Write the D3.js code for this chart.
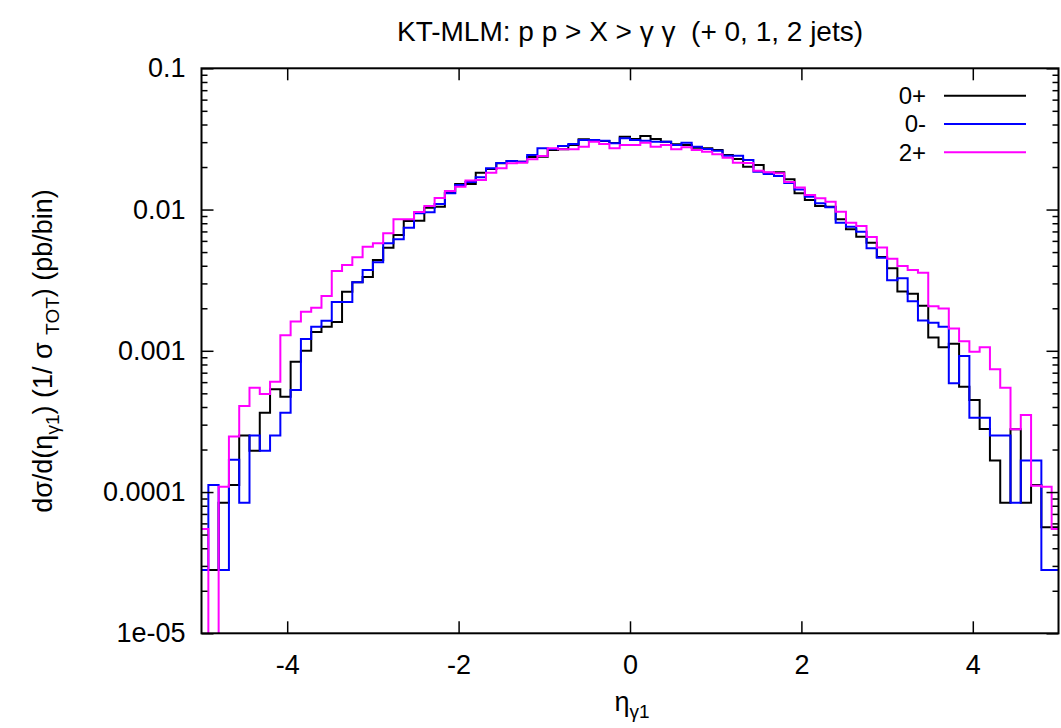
<!DOCTYPE html>
<html><head><meta charset="utf-8">
<script src="https://cdn.jsdelivr.net/npm/d3@7/dist/d3.min.js"></script>
<style>
body{margin:0;background:#fff;}
text{font-family:"Liberation Sans",Arial,Helvetica,sans-serif;fill:#000;}
</style>
</head><body>
<svg id="chart" width="1061" height="728"></svg>
<script>
// ---- data ----
// histogram bins of width 0.12 in eta, edges from -5.04 to 5.04
const binEdges = d3.range(85).map(i => +(-5.04 + 0.12 * i).toFixed(2));
const seriesNames = ["0+", "0-", "2+"];
const values0p = [
 2.81e-5,2.81e-5,8.41e-5,1.12e-4,2.51e-4,1.96e-4,3.65e-4,5.34e-4,4.73e-4,8.37e-4,
 1.00e-3,1.36e-3,1.48e-3,1.60e-3,2.62e-3,3.06e-3,3.33e-3,4.39e-3,5.37e-3,6.60e-3,
 8.30e-3,8.34e-3,1.031e-2,1.047e-2,1.310e-2,1.517e-2,1.517e-2,1.823e-2,1.937e-2,2.126e-2,
 2.207e-2,2.182e-2,2.356e-2,2.367e-2,2.640e-2,2.670e-2,2.864e-2,3.144e-2,3.073e-2,3.058e-2,
 2.959e-2,3.280e-2,3.159e-2,3.318e-2,3.159e-2,3.023e-2,2.897e-2,2.864e-2,2.741e-2,2.714e-2,
 2.640e-2,2.433e-2,2.280e-2,2.011e-2,2.068e-2,1.823e-2,1.835e-2,1.637e-2,1.303e-2,1.168e-2,
 1.059e-2,1.047e-2,8.53e-3,7.25e-3,6.42e-3,5.83e-3,4.61e-3,3.84e-3,2.63e-3,2.53e-3,
 2.08e-3,1.24e-3,1.06e-3,1.12e-3,5.57e-4,4.49e-4,2.80e-4,1.67e-4,8.41e-5,2.78e-4,
 8.41e-5,1.12e-4,5.63e-5,5.63e-5
];
const values0m = [
 2.81e-5,1.12e-4,2.81e-5,1.69e-4,8.41e-5,2.51e-4,1.96e-4,2.51e-4,3.65e-4,5.28e-4,
 1.21e-3,1.48e-3,1.63e-3,2.22e-3,2.22e-3,3.06e-3,3.73e-3,4.23e-3,5.77e-3,6.16e-3,
 7.44e-3,9.41e-3,9.56e-3,1.095e-2,1.303e-2,1.492e-2,1.567e-2,1.692e-2,1.959e-2,2.136e-2,
 2.207e-2,2.182e-2,2.433e-2,2.714e-2,2.683e-2,2.818e-2,2.911e-2,3.108e-2,3.108e-2,3.073e-2,
 2.944e-2,3.195e-2,3.108e-2,3.073e-2,3.023e-2,3.023e-2,2.864e-2,2.973e-2,2.786e-2,2.683e-2,
 2.610e-2,2.405e-2,2.405e-2,2.243e-2,1.853e-2,1.785e-2,1.728e-2,1.542e-2,1.387e-2,1.233e-2,
 1.107e-2,1.037e-2,8.07e-3,7.56e-3,6.97e-3,5.32e-3,4.55e-3,3.16e-3,3.26e-3,2.24e-3,
 1.64e-3,1.58e-3,1.48e-3,5.89e-4,9.19e-4,3.36e-4,3.36e-4,2.51e-4,2.51e-4,8.41e-5,
 1.67e-4,1.67e-4,2.81e-5,2.81e-5
];
const values2p = [
 5.47e-5,0,1.09e-4,2.47e-4,4.07e-4,5.48e-4,4.95e-4,6.04e-4,1.29e-3,1.61e-3,
 1.89e-3,2.02e-3,2.44e-3,3.67e-3,4.05e-3,4.59e-3,5.46e-3,5.77e-3,6.79e-3,8.53e-3,
 8.53e-3,9.61e-3,1.059e-2,1.207e-2,1.353e-2,1.451e-2,1.606e-2,1.619e-2,1.823e-2,1.959e-2,
 2.126e-2,2.147e-2,2.268e-2,2.394e-2,2.714e-2,2.670e-2,2.670e-2,2.786e-2,3.023e-2,2.911e-2,
 2.714e-2,2.864e-2,2.864e-2,2.973e-2,2.786e-2,2.864e-2,2.670e-2,2.759e-2,2.640e-2,2.568e-2,
 2.461e-2,2.328e-2,2.147e-2,2.136e-2,1.884e-2,1.835e-2,1.805e-2,1.567e-2,1.432e-2,1.268e-2,
 1.201e-2,1.137e-2,9.66e-3,8.07e-3,7.65e-3,6.39e-3,5.39e-3,4.48e-3,3.99e-3,3.73e-3,
 3.57e-3,2.07e-3,1.99e-3,1.44e-3,1.17e-3,9.86e-4,1.06e-3,7.39e-4,5.48e-4,2.78e-4,
 3.51e-4,1.11e-4,1.09e-4,5.47e-5
];
const xTickValues = [-4, -2, 0, 2, 4];
const xTickLabels = ["-4", "-2", "0", "2", "4"];
const yTickValues = [0.1, 0.01, 0.001, 0.0001, 0.00001];
const yTickLabels = ["0.1", "0.01", "0.001", "0.0001", "1e-05"];

// ---- layout ----
const L = 201.5, R = 1058.5, T = 68.3, B = 633.3;
const svg = d3.select("#chart");
const x = d3.scaleLinear().domain([-5, 5]).range([L, R]);
const y = d3.scaleLog().domain([1e-5, 0.1]).range([B, T]);
const colors = ["#000000", "#0000ff", "#ff00ff"];
const allSeries = [values0p, values0m, values2p];

svg.append("defs").append("clipPath").attr("id", "clip")
  .append("rect").attr("x", L).attr("y", T).attr("width", R - L).attr("height", B - T);

// curves
const line = d3.line()
  .x(d => x(d.e))
  .y(d => d.v > 0 ? y(d.v) : B + 40)
  .curve(d3.curveStepAfter);

const g = svg.append("g").attr("clip-path", "url(#clip)");
allSeries.forEach((vals, s) => {
  const pts = binEdges.map((e, i) => ({e: e, v: vals[Math.min(i, vals.length - 1)]}));
  g.append("path").attr("d", line(pts))
    .attr("fill", "none").attr("stroke", colors[s]).attr("stroke-width", 2)
    .attr("stroke-linejoin", "miter");
});

// axes
const fontSize = 27;
const minorY = [];
[1e-5, 1e-4, 1e-3, 1e-2].forEach(d => { for (let m = 2; m <= 9; m++) minorY.push(d * m); });

function styleAxis(sel) {
  sel.select(".domain").remove();
  sel.selectAll(".tick line").attr("stroke", "#000").attr("stroke-width", 1.5);
  sel.selectAll("text").style("font-size", fontSize + "px").attr("fill", "#000");
}
svg.append("g").attr("transform", `translate(0,${B})`)
  .call(d3.axisBottom(x).tickValues(xTickValues).tickSize(-12).tickPadding(22)
    .tickFormat((d, i) => xTickLabels[i]))
  .call(styleAxis);
svg.append("g").attr("transform", `translate(0,${T})`)
  .call(d3.axisTop(x).tickValues(xTickValues).tickSize(-12).tickFormat(""))
  .call(styleAxis);
svg.append("g").attr("transform", `translate(${L},0)`)
  .call(d3.axisLeft(y).tickValues(yTickValues).tickSize(-12).tickPadding(16)
    .tickFormat((d, i) => yTickLabels[i]))
  .call(styleAxis);
svg.append("g").attr("transform", `translate(${L},0)`)
  .call(d3.axisLeft(y).tickValues(minorY).tickSize(-6).tickFormat(""))
  .call(styleAxis);
svg.append("g").attr("transform", `translate(${R},0)`)
  .call(d3.axisRight(y).tickValues(yTickValues).tickSize(-12).tickFormat(""))
  .call(styleAxis);
svg.append("g").attr("transform", `translate(${R},0)`)
  .call(d3.axisRight(y).tickValues(minorY).tickSize(-6).tickFormat(""))
  .call(styleAxis);

// frame
svg.append("rect").attr("x", L).attr("y", T).attr("width", R - L).attr("height", B - T)
  .attr("fill", "none").attr("stroke", "#000").attr("stroke-width", 2);

// title
svg.append("text").attr("x", 630).attr("y", 41).attr("text-anchor", "middle")
  .style("font-size", "28px")
  .text("KT-MLM: p p > X > \u03b3 \u03b3  (+ 0, 1, 2 jets)")
  .attr("xml:space", "preserve").style("white-space", "pre");

// x label
const xl = svg.append("text").attr("x", 632).attr("y", 711).attr("text-anchor", "middle")
  .style("font-size", fontSize + "px");
xl.append("tspan").text("\u03b7");
xl.append("tspan").attr("dy", 7).style("font-size", "19px").text("\u03b31");

// y label
const yl = svg.append("text").attr("transform", "translate(52,351) rotate(-90)")
  .attr("text-anchor", "middle").style("font-size", fontSize + "px");
yl.append("tspan").text("d\u03c3/d(\u03b7");
yl.append("tspan").attr("dy", 7).style("font-size", "19px").text("\u03b31");
yl.append("tspan").attr("dy", -7).text(") (1/ \u03c3 ");
yl.append("tspan").attr("dy", 7).style("font-size", "19px").text("TOT");
yl.append("tspan").attr("dy", -7).text(") (pb/bin)");

// legend
const legY = [95.7, 124, 152.3];
seriesNames.forEach((n, i) => {
  svg.append("text").attr("x", 926).attr("y", legY[i]).attr("dy", "0.35em")
    .attr("text-anchor", "end").style("font-size", "24px").text(n);
  svg.append("line").attr("x1", 944).attr("x2", 1026).attr("y1", legY[i]).attr("y2", legY[i])
    .attr("stroke", colors[i]).attr("stroke-width", 2);
});
</script>
</body></html>
